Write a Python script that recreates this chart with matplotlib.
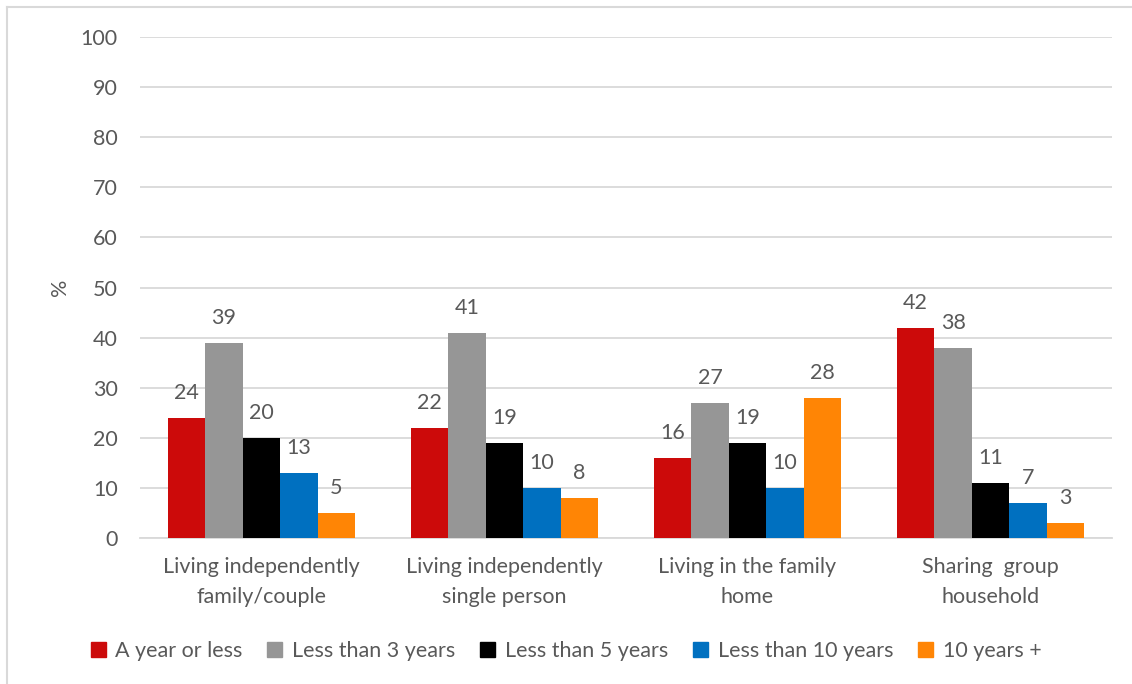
import matplotlib
matplotlib.use('Agg')
import matplotlib.pyplot as plt
from matplotlib.lines import Line2D
from matplotlib.patches import Patch
import numpy as np

plt.rcParams['font.family'] = ['Lato', 'DejaVu Sans']

TEXT = '#595959'
GRID = '#d9d9d9'
FS = 15.5

categories = [
    'Living independently\nfamily/couple',
    'Living independently\nsingle person',
    'Living in the family\nhome',
    'Sharing  group\nhousehold',
]
series = ['A year or less', 'Less than 3 years', 'Less than 5 years',
          'Less than 10 years', '10 years +']
values = [
    [24, 22, 16, 42],
    [39, 41, 27, 38],
    [20, 19, 19, 11],
    [13, 10, 10, 7],
    [5, 8, 28, 3],
]
colors = ['#cc0a0a', '#969696', '#000000', '#0070c0', '#ff8505']

W, H = 1132, 684
fig = plt.figure(figsize=(W / 100, H / 100), dpi=100)
ax = fig.add_axes([140 / W, 1 - 538 / H, (1112 - 140) / W, (538 - 37) / H])

x = np.arange(len(categories))
n = len(series)
group_w = 0.77
bw = group_w / n
for i, (name, vals, c) in enumerate(zip(series, values, colors)):
    pos = x - group_w / 2 + bw * (i + 0.5)
    ax.bar(pos, vals, width=bw, color=c, label=name, zorder=3)
    for p, v in zip(pos, vals):
        ax.text(p, v + 3, str(v), ha='center', va='bottom',
                fontsize=FS, color=TEXT)

ax.set_xlim(-0.5, len(categories) - 0.5)
ax.set_ylim(0, 100)
ax.set_yticks(range(0, 101, 10))
ax.yaxis.grid(True, color=GRID, linewidth=1.3, zorder=0)
ax.set_axisbelow(True)
for s in ['top', 'right', 'left']:
    ax.spines[s].set_visible(False)
ax.spines['bottom'].set_color(GRID)
ax.spines['bottom'].set_linewidth(1.3)
ax.tick_params(axis='y', length=0, pad=16, labelsize=FS, labelcolor=TEXT)
ax.tick_params(axis='x', length=0, pad=14, labelsize=FS, labelcolor=TEXT)
ax.set_xticks(x)
ax.set_xticklabels(categories, linespacing=1.6)
ax.set_ylabel('%', fontsize=FS, color=TEXT, labelpad=8)

handles = [Patch(color=c) for c in colors]
fig.legend(handles, series, loc='center', bbox_to_anchor=(0.5, 1 - 651 / H),
           ncol=5, frameon=False, fontsize=FS, labelcolor=TEXT,
           handlelength=0.7, handleheight=0.7, handletextpad=0.45,
           columnspacing=1.15)

# light frame around the chart
fig.add_artist(Line2D([7 / W, 7 / W], [0, 1 - 7 / H], color=GRID, lw=1.5))
fig.add_artist(Line2D([7 / W, 1], [1 - 7 / H, 1 - 7 / H], color=GRID, lw=1.5))

fig.savefig('out.png', dpi=100)
